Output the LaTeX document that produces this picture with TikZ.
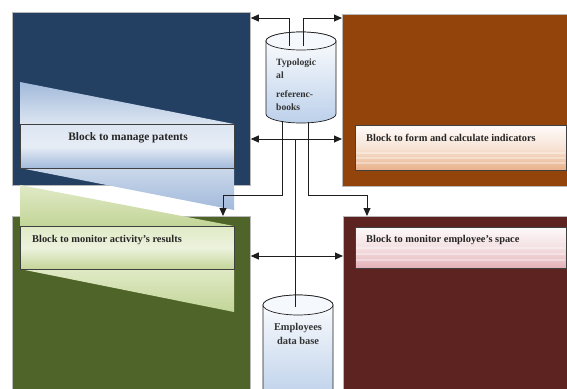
\documentclass[tikz,border=0pt]{standalone}
\usepackage{fontspec}
\setmainfont{Liberation Serif}
\usetikzlibrary{arrows.meta,calc}
\definecolor{blueblk}{HTML}{233F62}
\definecolor{brownblk}{HTML}{93440A}
\definecolor{greenblk}{HTML}{4F6428}
\definecolor{redblk}{HTML}{5C2320}
\definecolor{lineclr}{HTML}{1E1E1E}
\definecolor{bluetri}{HTML}{A2BADB}
\definecolor{bluepale}{HTML}{DCE5F1}
\definecolor{greentri}{HTML}{C3D598}
\definecolor{greenpale}{HTML}{E0EAC6}
\definecolor{peach}{HTML}{E9B088}
\definecolor{pinkish}{HTML}{E3B0B6}
\definecolor{cylblue}{HTML}{BCD0EA}
\begin{document}
\begin{tikzpicture}[x=1pt,y=-1pt,
  block/.style={draw=gray!55, line width=0.8pt, anchor=north west, inner sep=0pt},
  panel/.style={draw=black!75, line width=0.7pt, anchor=north west, inner sep=0pt},
  arr/.style={draw=lineclr, line width=0.9pt, -{Triangle[length=8pt,width=7pt]}},
  darr/.style={draw=lineclr, line width=0.9pt, {Triangle[length=8pt,width=7pt]}-{Triangle[length=8pt,width=7pt]}},
  conn/.style={draw=lineclr, line width=0.9pt},
  lbl/.style={font=\bfseries\fontsize{10.4}{12}\selectfont, text=black!85, inner sep=0pt},
  cyltxt/.style={font=\bfseries\fontsize{9.6}{13}\selectfont, text=black!80, inner sep=0pt, align=left},
]
\useasboundingbox (0,0) rectangle (567,388);

% main blocks
\node[block, fill=blueblk, minimum width=238pt, minimum height=173pt] (blue) at (12,12) {};
\node[block, fill=brownblk, minimum width=226pt, minimum height=172pt] (brown) at (342,14) {};
\node[block, fill=greenblk, minimum width=238pt, minimum height=174pt] (green) at (12,216) {};
\node[block, fill=redblk, minimum width=225pt, minimum height=174pt] (red) at (343,216) {};

% green sheen triangles
\shade[top color=greenpale, bottom color=greentri] (20,185) -- (234,226) -- (20,226) -- cycle;
\shade[top color=greenpale, bottom color=greentri] (20,269) -- (234,269) -- (234,312) -- cycle;
% blue sheen triangles
\shade[top color=bluetri, bottom color=bluepale] (20,82) -- (234,124) -- (20,124) -- cycle;
\shade[top color=bluepale!70!bluetri, bottom color=bluetri] (20,168) -- (234,168) -- (234,210) -- cycle;

% inner panels
\node[panel, top color=bluepale, bottom color=bluetri, middle color=white!30!bluepale, minimum width=214pt, minimum height=44pt] (bpanel) at (20,124) {};
\node[panel, top color=greenpale, bottom color=greentri, middle color=white!40!greenpale, minimum width=214pt, minimum height=43pt] (gpanel) at (20,226) {};
\node[panel, top color=white!95!peach, bottom color=peach, middle color=white!65!peach, minimum width=211pt, minimum height=45pt] (opanel) at (355,125) {};
\node[panel, top color=white!92!pinkish, bottom color=pinkish, middle color=white!60!pinkish, minimum width=211pt, minimum height=41pt] (rpanel) at (355,227) {};
% faint stripes in the right panels
\foreach \yy in {153,158,163} {\draw[white, opacity=0.35, line width=1.5pt] (356,\yy) -- (565,\yy);}
\foreach \yy in {248,254,260} {\draw[white, opacity=0.35, line width=1.5pt] (356,\yy) -- (565,\yy);}

% panel labels
\node[lbl, font=\bfseries\fontsize{11.4}{13}\selectfont] (lblue) at (128,138) {Block to manage patents};
\node[lbl, anchor=west] (lgreen) at (32,240) {Block to monitor activity's results};
\node[lbl, anchor=west] (lbrown) at (366,138) {Block to form and calculate indicators};
\node[lbl, anchor=west] (lred) at (366,240) {Block to monitor employee's space};

% top cylinder
\shade[top color=white, bottom color=cylblue, draw=lineclr, line width=0.7pt]
  (266,41) -- (266,114) arc[start angle=180, end angle=360, x radius=35pt, y radius=9pt]
  -- (336,41) arc[start angle=0, end angle=180, x radius=35pt, y radius=9pt] -- cycle;
\draw[lineclr, line width=0.7pt, fill=white!85!cylblue] (301,41) ellipse [x radius=35pt, y radius=9pt];
\node[cyltxt, anchor=north west] (tcyl) at (276,59) {Typologic\\al\\[6pt]referenc-\\books};

% bottom cylinder
\shade[top color=white, bottom color=cylblue, draw=lineclr, line width=0.7pt]
  (263,305) -- (263,400) -- (333,400) -- (333,305) arc[start angle=0, end angle=180, x radius=35pt, y radius=10pt] -- cycle;
\draw[lineclr, line width=0.7pt, fill=white!85!cylblue] (298,305) ellipse [x radius=35pt, y radius=10pt];
\node[cyltxt, font=\bfseries\fontsize{10.4}{14}\selectfont, align=center] (bcyl) at (298,334) {Employees\\data base};

% connector points
\coordinate (tc1) at (289,46);
\coordinate (tc2) at (303,46);
\coordinate (bc1) at (282,121);
\coordinate (bc2) at (308,122);
\coordinate (ytop) at (0,18);
\coordinate (ymid) at (0,139);
\coordinate (ylow) at (0,256);
\coordinate (xm) at (295,0);
\coordinate (ecyl) at (295,307);
\coordinate (jA) at (223,195);
\coordinate (jB) at (367,195);

% connectors
\draw[arr] (tc1) |- (blue.east |- ytop);
\draw[arr] (tc2) |- (brown.west |- ytop);
\draw[darr] (blue.east |- ymid) -- (brown.west |- ymid);
\draw[darr] (green.east |- ylow) -- (red.west |- ylow);
\draw[conn] (xm |- ymid) -- (ecyl);
\draw[arr] (bc1) |- (jA) -- (jA |- green.north);
\draw[arr] (bc2) |- (jB) -- (jB |- red.north);
\end{tikzpicture}
\end{document}
